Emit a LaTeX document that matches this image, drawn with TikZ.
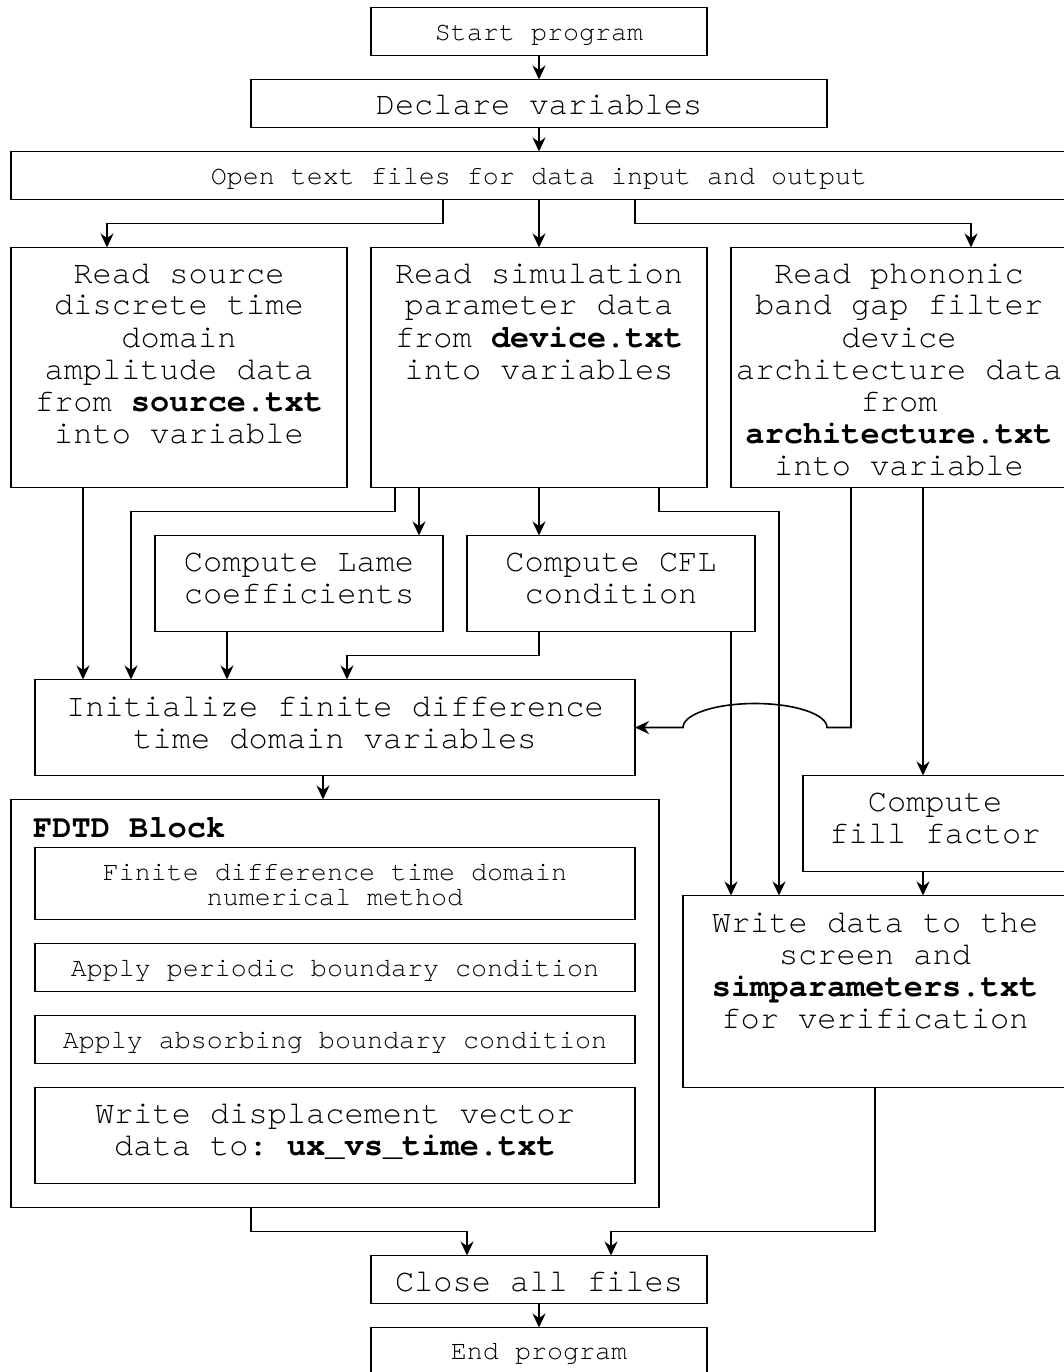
\documentclass[tikz,border=0pt]{standalone}
\usepackage{fontspec}
\newfontfamily\cur{texgyrecursor}[Extension=.otf, UprightFont=*-regular, BoldFont=*-bold, Ligatures=NoCommon]
\usetikzlibrary{arrows.meta}
\newcommand{\ws}{\spaceskip=0.6em\relax\xspaceskip=0.6em\relax}
\newcommand{\bigf}{\cur\fontsize{32}{32}\selectfont}
\newcommand{\smallf}{\cur\fontsize{26.67}{25}\selectfont}
\begin{document}
\begin{tikzpicture}[x=1pt, y=-1pt,
  bx/.style={draw, line width=1.6pt, inner sep=0pt, outer sep=0pt},
  tx/.style={anchor=base, align=center, inner sep=0pt, text width=#1},
  tx/.default=420pt,
  arr/.style={line width=1.6pt, -{Stealth[length=14pt, width=13pt, inset=4.5pt]}}]
\useasboundingbox (0,0) rectangle (1063,1372);

% boxes
\node[bx, minimum width=336pt, minimum height=48pt] (start) at (539,31.5) {};
\node[bx, minimum width=576pt, minimum height=48pt] (declare) at (539,103.5) {};
\node[bx, minimum width=1056pt, minimum height=48pt] (open) at (539,175.5) {};
\node[bx, minimum width=336pt, minimum height=240pt] (src) at (179,367.5) {};
\node[bx, minimum width=336pt, minimum height=240pt] (dev) at (539,367.5) {};
\node[bx, minimum width=336pt, minimum height=240pt] (arch) at (899,367.5) {};
\node[bx, minimum width=288pt, minimum height=96pt] (lame) at (299,583.5) {};
\node[bx, minimum width=288pt, minimum height=96pt] (cfl) at (611,583.5) {};
\node[bx, minimum width=600pt, minimum height=96pt] (init) at (335,727.5) {};
\node[bx, minimum width=648pt, minimum height=408pt] (fdtd) at (335,1003.5) {};
\node[bx, minimum width=600pt, minimum height=72pt] (in1) at (335,883.5) {};
\node[bx, minimum width=600pt, minimum height=48pt] (in2) at (335,967.5) {};
\node[bx, minimum width=600pt, minimum height=48pt] (in3) at (335,1039.5) {};
\node[bx, minimum width=600pt, minimum height=96pt] (in4) at (335,1135.5) {};
\node[bx, minimum width=264pt, minimum height=96pt] (fill) at (935,823.5) {};
\node[bx, minimum width=384pt, minimum height=192pt] (write) at (875,991.5) {};
\node[bx, minimum width=336pt, minimum height=48pt] (close) at (539,1279.5) {};
\node[bx, minimum width=336pt, minimum height=48pt] (end) at (539,1351.5) {};

% texts
\node[tx, font=\smallf] (t-start) at (539,41) {\ws Start program};
\node[tx, font=\bigf] (t-declare) at (539,115) {\ws Declare variables};
\node[tx=1000pt, font=\smallf] (t-open) at (539,185) {\ws Open text files for data input and output};
\node[tx, font=\bigf] (t-src) at (179,283) {\ws Read source\\discrete time\\domain\\amplitude data\\from \textbf{source.txt}\\into variable};
\node[tx, font=\bigf] (t-dev) at (539,283) {\ws Read simulation\\parameter data\\from \textbf{device.txt}\\into variables};
\node[tx, font=\bigf] (t-arch) at (899,283) {\ws Read phononic\\band gap filter\\device\\architecture data\\from\\\textbf{architecture.txt}\\into variable};
\node[tx, font=\bigf] (t-lame) at (299,571) {\ws Compute Lame\\coefficients};
\node[tx, font=\bigf] (t-cfl) at (611,571) {\ws Compute CFL\\condition};
\node[tx=600pt, font=\bigf] (t-init) at (335,716) {\ws Initialize finite difference\\time domain variables};
\node[anchor=base west, inner sep=0pt, font=\bigf\bfseries] (t-fdtd) at (33,837) {\ws FDTD Block};
\node[tx=600pt, font=\smallf] (t-in1) at (335,880) {\ws Finite difference time domain\\numerical method};
\node[tx=600pt, font=\smallf] (t-in2) at (335,976) {\ws Apply periodic boundary condition};
\node[tx=600pt, font=\smallf] (t-in3) at (335,1048) {\ws Apply absorbing boundary condition};
\node[tx=600pt, font=\bigf] (t-in4) at (335,1123) {\ws Write displacement vector\\data to: \textbf{ux\_vs\_time.txt}};
\node[tx, font=\bigf] (t-fill) at (935,811) {\ws Compute\\fill factor};
\node[tx, font=\bigf] (t-write) at (875,932) {\ws Write data to the\\screen and\\\textbf{simparameters.txt}\\for verification};
\node[tx, font=\bigf] (t-close) at (539,1291.5) {\ws Close all files};
\node[tx, font=\smallf] (t-end) at (539,1359.5) {\ws End program};

% connectors
\draw[arr] (start) -- (declare);
\draw[arr] (declare) -- (open);
\draw[arr] (open.south -| 443,0) -- (443,223.5) -- (107,223.5) -- (src.north -| 107,0);
\draw[arr] (open.south -| 539,0) -- (dev.north -| 539,0);
\draw[arr] (open.south -| 635,0) -- (635,223.5) -- (971,223.5) -- (arch.north -| 971,0);
\draw[arr] (src.south -| 83,0) -- (init.north -| 83,0);
\draw[arr] (dev.south -| 395,0) -- (395,511.5) -- (131,511.5) -- (init.north -| 131,0);
\draw[arr] (dev.south -| 419,0) -- (lame.north -| 419,0);
\draw[arr] (dev.south -| 539,0) -- (cfl.north -| 539,0);
\draw[arr] (dev.south -| 659,0) -- (659,511.5) -- (779,511.5) -- (write.north -| 779,0);
\draw[arr] (lame.south -| 227,0) -- (init.north -| 227,0);
\draw[arr] (cfl.south -| 539,0) -- (539,655.5) -- (347,655.5) -- (init.north -| 347,0);
\draw[arr] (cfl.south -| 731,0) -- (write.north -| 731,0);
\draw[arr] (arch.south -| 851,0) -- (851,727.5) -- (827,727.5)
   arc[start angle=0, end angle=180, x radius=72pt, y radius=24pt] -- (init.east);
\draw[arr] (arch.south -| 923,0) -- (fill.north -| 923,0);
\draw[arr] (fill.south -| 923,0) -- (write.north -| 923,0);
\draw[arr] (init.south -| 323,0) -- (fdtd.north -| 323,0);
\draw[arr] (fdtd.south -| 251,0) -- (251,1231.5) -- (467,1231.5) -- (close.north -| 467,0);
\draw[arr] (write.south -| 875,0) -- (875,1231.5) -- (611,1231.5) -- (close.north -| 611,0);
\draw[arr] (close) -- (end);
\end{tikzpicture}
\end{document}
